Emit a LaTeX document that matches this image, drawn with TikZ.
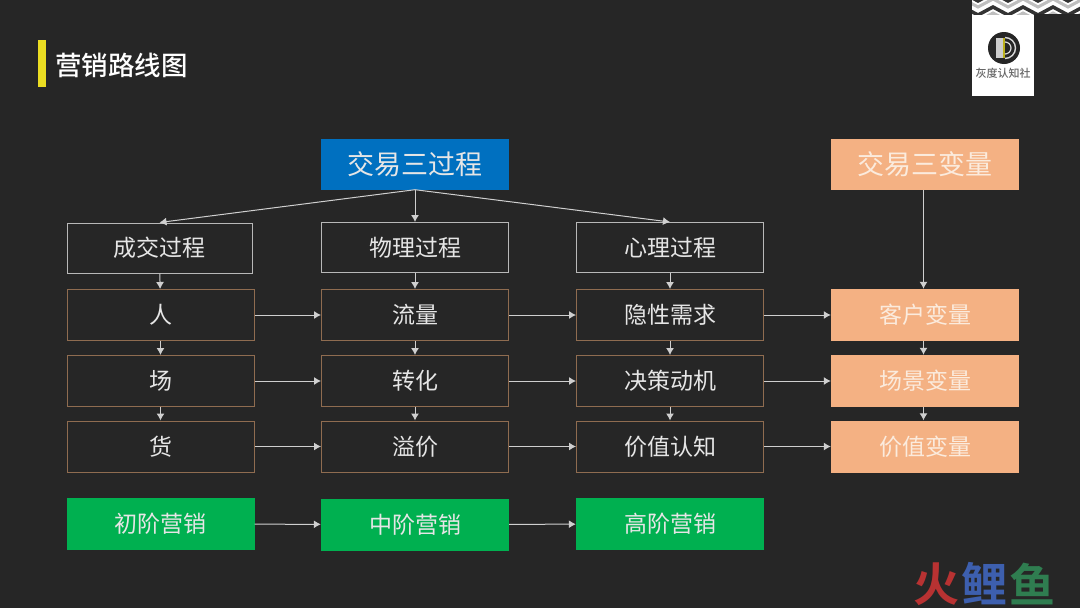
\documentclass[tikz,border=0pt]{standalone}
\usepackage{fontspec}
\setmainfont{Noto Sans CJK SC}
\newfontfamily\cjkbold{Noto Sans CJK SC Bold}
\newfontfamily\cjkmedium{Noto Sans CJK SC Medium}
\usetikzlibrary{arrows.meta}
\definecolor{bgdark}{HTML}{262626}
\definecolor{headblue}{HTML}{0070C0}
\definecolor{peach}{HTML}{F4B183}
\definecolor{peachtext}{HTML}{FBEBDD}
\definecolor{boxbrown}{HTML}{8F6C50}
\definecolor{stepgreen}{HTML}{00B050}
\definecolor{textgrey}{HTML}{E6E6E6}
\definecolor{baryellow}{HTML}{EBDD22}
\definecolor{markred}{HTML}{B83232}
\definecolor{markblue}{HTML}{3D5FAE}
\definecolor{markgreen}{HTML}{2F7D50}
\tikzset{
  headbox/.style={minimum width=188pt,minimum height=51pt,inner sep=0pt,font=\fontsize{27}{27}\selectfont},
  procbox/.style={draw=textgrey!80!black,line width=1pt,minimum width=187pt,minimum height=50pt,inner sep=0pt,text=textgrey,font=\fontsize{23}{23}\selectfont},
  itembox/.style={draw=boxbrown,line width=1pt,minimum width=187pt,minimum height=51pt,inner sep=0pt,text=textgrey,font=\fontsize{23}{23}\selectfont},
  varbox/.style={fill=peach,minimum width=188pt,minimum height=52pt,inner sep=0pt,text=peachtext,font=\fontsize{23}{23}\selectfont},
  stagebox/.style={fill=stepgreen,minimum width=188pt,minimum height=52pt,inner sep=0pt,text=textgrey,font=\fontsize{23}{23}\selectfont},
  markchar/.style={inner sep=0pt,font=\cjkbold\fontsize{46}{46}\selectfont},
  link/.style={draw=textgrey!90!black,line width=1pt,-{Latex[length=7pt,width=8pt]}}
}
\begin{document}
\begin{tikzpicture}[x=1pt,y=-1pt]
  \useasboundingbox (0,0) rectangle (1080,608);
  \fill[bgdark] (0,0) rectangle (1080,608);

  % title
  \fill[baryellow] (38,40) rectangle (46,87);
  \node[anchor=west,inner sep=0pt,text=white,font=\cjkmedium\fontsize{26.5}{26.5}\selectfont] (title) at (55,65) {营销路线图};

  % logo
  \fill[white] (972,0) rectangle (1080,14);
  \fill[white] (972,14) rectangle (1034,96);
  \begin{scope}
    \clip (972,0) rectangle (1080,14);
    \foreach \y/\c/\w in {-13/black!25/3,-7/black!80/3.5,-1/black!25/3,7/black!80/3.5,13/black!25/3} {
      \draw[\c,line width=\w pt] (963,\y) -- ++(15,8) -- ++(15,-8) -- ++(15,8) -- ++(15,-8) -- ++(15,8) -- ++(15,-8) -- ++(15,8) -- ++(15,-8);
    }
  \end{scope}
  \fill[bgdark] (1034,14) rectangle (1080,96);
  \fill[black!85] (1004,48) circle [radius=16];
  \fill[black!20] (996,38) rectangle (1002.5,58);
  \fill[baryellow!80!black] (1002.5,38) rectangle (1005,58);
  \draw[black!15,line width=1.4pt] (1005,37.5) arc [start angle=-90,end angle=90,radius=10.5];
  \draw[black!15,line width=1.2pt] (1005,42) arc [start angle=-90,end angle=90,radius=6];
  \node[inner sep=0pt,text=black!60,font=\cjkmedium\fontsize{11}{11}\selectfont] (logotext) at (1003,73) {灰度认知社};

  % header row
  \node[headbox,fill=headblue,text=textgrey] (process) at (415,164) {交易三过程};
  \node[headbox,fill=peach,text=peachtext] (variable) at (925,164.5) {交易三变量};

  \node[procbox,minimum width=185pt] (deal) at (159.5,248) {成交过程};
  \node[procbox] (physical) at (415,247.5) {物理过程};
  \node[procbox] (mental) at (670,247.5) {心理过程};

  % rows
  \node[itembox] (person) at (160.5,315) {人};
  \node[itembox] (scene) at (160.5,381) {场};
  \node[itembox] (goods) at (160.5,446.5) {货};

  \node[itembox] (traffic) at (415,315) {流量};
  \node[itembox] (convert) at (415,381) {转化};
  \node[itembox] (premium) at (415,446.5) {溢价};

  \node[itembox] (hidden) at (670,315) {隐性需求};
  \node[itembox] (motive) at (670,381) {决策动机};
  \node[itembox] (value) at (670,446.5) {价值认知};

  \node[varbox] (customer) at (925,315) {客户变量};
  \node[varbox] (scenevar) at (925,381) {场景变量};
  \node[varbox] (valuevar) at (925,446.5) {价值变量};

  % stages
  \node[stagebox] (low) at (160.5,524) {初阶营销};
  \node[stagebox] (mid) at (415,524.5) {中阶营销};
  \node[stagebox] (high) at (670,524) {高阶营销};

  % links
  \draw[link] (process.south) -- (deal.north);
  \draw[link] (process.south) -- (physical.north);
  \draw[link] (process.south) -- (mental.north);
  \draw[link] ([xshift=-1.5pt]variable.south) -- ([xshift=-1.5pt]customer.north);

  \draw[link] (deal) -- (person);
  \draw[link] (person) -- (scene);
  \draw[link] (scene) -- (goods);
  \draw[link] (physical) -- (traffic);
  \draw[link] (traffic) -- (convert);
  \draw[link] (convert) -- (premium);
  \draw[link] (mental) -- (hidden);
  \draw[link] (hidden) -- (motive);
  \draw[link] (motive) -- (value);
  \draw[link] ([xshift=-1.5pt]customer.south) -- ([xshift=-1.5pt]scenevar.north);
  \draw[link] ([xshift=-1.5pt]scenevar.south) -- ([xshift=-1.5pt]valuevar.north);

  \draw[link] (person) -- (traffic);
  \draw[link] (traffic) -- (hidden);
  \draw[link] (hidden) -- (customer);
  \draw[link] (scene) -- (convert);
  \draw[link] (convert) -- (motive);
  \draw[link] (motive) -- (scenevar);
  \draw[link] (goods) -- (premium);
  \draw[link] (premium) -- (value);
  \draw[link] (value) -- (valuevar);
  \draw[link] (low) -- (mid);
  \draw[link] (mid) -- (high);

  % watermark
  \node[markchar,text=markred] (huo) at (936,584) {火};
  \node[markchar,text=markblue] (li) at (984,584) {鲤};
  \node[markchar,text=markgreen] (yu) at (1032,584) {鱼};
\end{tikzpicture}
\end{document}
